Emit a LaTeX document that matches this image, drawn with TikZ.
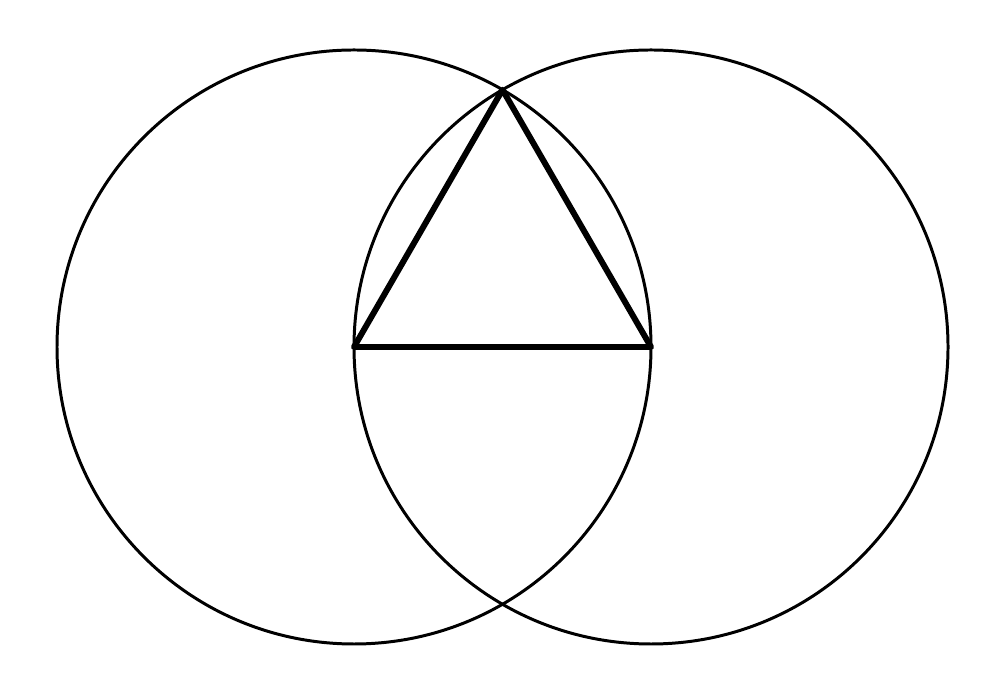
\documentclass[tikz,border=0pt]{standalone}
\usepackage{tikz}
\usetikzlibrary{calc}
\usetikzlibrary{positioning}
\begin{document}
\begin{tikzpicture}
		[
		line join=round,
		line cap=round
		]
		
		% Two line styles: thin circles and thick sides
		\tikzstyle{circle line}=[draw,line width=0.85pt];
		\tikzstyle{side line}=[draw,line width=1.7pt];
		
		% Page size
		\useasboundingbox (0,0) rectangle (10.05,6.96);
		
		% The given segment and the apex
		\coordinate (A) at (3.54,3.49);
		\coordinate (B) at (6.51,3.49);
		\coordinate (C) at ($(A)!1!60:(B)$);
		
		% Circles about each end
		\path[circle line] (A) circle[radius=2.97];
		\path[circle line] (B) circle[radius=2.97];
		
		% The triangle
		\path[side line] (A) -- (B) -- (C) -- cycle;
		
\end{tikzpicture}
\end{document}
